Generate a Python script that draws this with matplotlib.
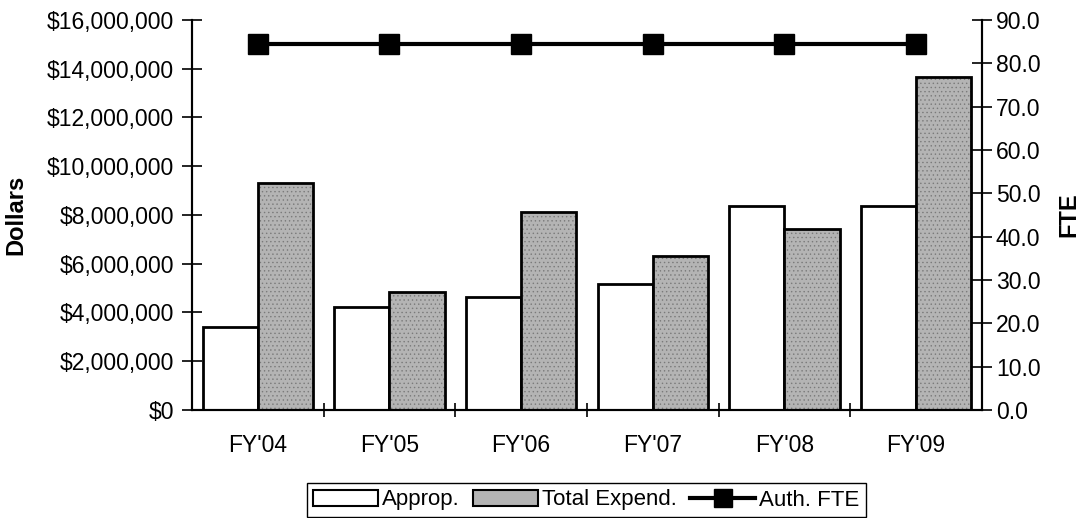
import matplotlib.pyplot as plt
import matplotlib.ticker as tkr
from matplotlib.patches import Patch
from matplotlib.lines import Line2D
import numpy as np

plt.rcParams["font.family"] = ["Liberation Sans", "DejaVu Sans"]
plt.rcParams["font.size"] = 16.5
plt.rcParams["hatch.linewidth"] = 0.5

# funding data per fiscal year
years = ["FY'04", "FY'05", "FY'06", "FY'07", "FY'08", "FY'09"]
approp = [3420000, 4210000, 4640000, 5170000, 8380000, 8380000]
total_expend = [9300000, 4850000, 8120000, 6320000, 7410000, 13670000]
auth_fte = [84.5, 84.5, 84.5, 84.5, 84.5, 84.5]

gray = "#b4b4b4"
x = np.arange(len(years))
w = 0.42

fig = plt.figure(figsize=(10.81, 5.18), dpi=100)
ax = fig.add_axes([0.1776, 0.2085, 0.7308, 0.7529])
ax2 = ax.twinx()

# bars
ax.bar(x - w / 2, approp, w, facecolor="white", edgecolor="black", linewidth=2.0, zorder=2)
ax.bar(x + w / 2, total_expend, w, facecolor=gray, edgecolor="#7a7a7a", hatch="....", linewidth=0, zorder=2)
ax.bar(x + w / 2, total_expend, w, facecolor="none", edgecolor="black", linewidth=2.0, zorder=3)

# authorized FTE line on the secondary axis
ax2.plot(x, auth_fte, color="black", linewidth=3.0, marker="s", markersize=14, zorder=4)

# left axis
ax.set_xlim(-0.5, len(years) - 0.5)
ax.set_ylim(0, 16000000)
ax.set_yticks(np.arange(0, 16000001, 2000000))
ax.yaxis.set_major_formatter(tkr.FuncFormatter(lambda v, p: "${:,.0f}".format(v)))
ax.set_ylabel("Dollars", fontweight="bold", fontsize=17, labelpad=14)
ax.tick_params(axis="y", direction="inout", length=14, width=1.2, pad=6)

# category labels at centers, tick marks between groups
ax.set_xticks(x)
ax.set_xticklabels(years)
ax.set_xticks(x[:-1] + 0.5, minor=True)
ax.tick_params(axis="x", which="major", length=0, pad=17)
ax.tick_params(axis="x", which="minor", direction="inout", length=10, width=1.2)

# right axis
ax2.set_ylim(0, 90)
ax2.set_yticks(np.arange(0, 91, 10))
ax2.yaxis.set_major_formatter(tkr.StrMethodFormatter("{x:.1f}"))
ax2.set_ylabel("FTE", fontweight="bold", fontsize=17, labelpad=12)
ax2.tick_params(axis="y", direction="inout", length=14, width=1.2, pad=3)

for a in (ax, ax2):
    a.spines["top"].set_visible(False)
    for s in a.spines.values():
        s.set_linewidth(1.5)

# legend below the plot, centred under the axes
handles = [
    Patch(facecolor="white", edgecolor="black", linewidth=1.5),
    Patch(facecolor=gray, edgecolor="black", linewidth=1.5),
    Line2D([], [], color="black", linewidth=3.0, marker="s", markersize=13),
]
labels = ["Approp.", "Total Expend.", "Auth. FTE"]
fig.legend(handles, labels, loc="center", bbox_to_anchor=(586.5 / 1081, 1 - 500 / 518),
           ncol=3, frameon=True, fancybox=False, edgecolor="black", framealpha=1.0,
           fontsize=16, handlelength=2.9, handletextpad=0.2, columnspacing=0.6,
           borderpad=0.3, borderaxespad=0)

fig.savefig("out.png", dpi=100)
